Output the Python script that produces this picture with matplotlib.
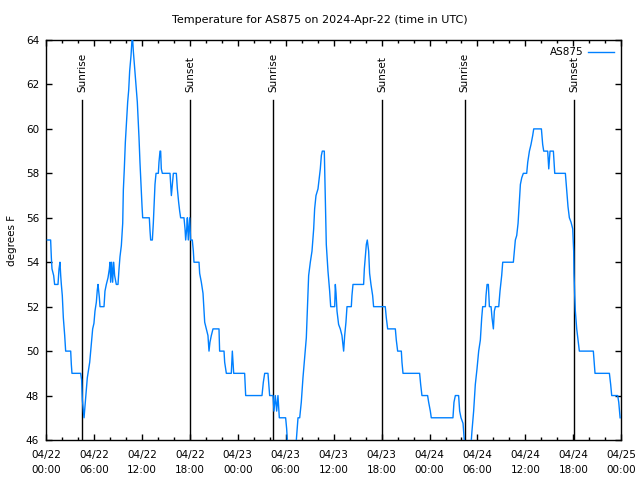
import matplotlib
matplotlib.use("Agg")
import matplotlib.pyplot as plt
from matplotlib.ticker import MultipleLocator, FixedLocator

# hours since 2024-04-22 00:00 UTC, temperature in F (polyline vertices)
hours = [0.17, 0.58, 0.67, 0.75, 0.96, 1.08, 1.50, 1.63, 1.75, 1.84, 1.92, 2.04, 2.17, 2.34, 2.46,
         3.09, 3.17, 3.25, 4.34, 4.46, 4.55, 4.76, 4.92, 5.17, 5.47, 5.72, 5.84, 6.00, 6.13, 6.30,
         6.42, 6.51, 6.68, 6.76, 7.26, 7.38, 7.55, 7.76, 7.93, 8.01, 8.09, 8.22, 8.34, 8.47, 8.59,
         8.80, 9.01, 9.14, 9.26, 9.43, 9.60, 9.68, 9.80, 9.93, 10.10, 10.22, 10.35, 10.47, 10.64,
         10.76, 10.85, 10.93, 11.10, 11.26, 11.43, 11.64, 11.76, 11.89, 12.02, 12.10, 12.93, 13.02,
         13.10, 13.31, 13.43, 13.52, 13.64, 13.77, 14.06, 14.14, 14.27, 14.35, 14.43, 14.56, 15.52,
         15.60, 15.69, 15.81, 15.94, 16.31, 16.44, 16.60, 16.73, 16.85, 17.27, 17.40, 17.48, 17.61,
         17.69, 17.81, 17.98, 18.10, 18.31, 18.44, 18.52, 19.15, 19.23, 19.44, 19.65, 19.77, 19.86,
         20.06, 20.27, 20.40, 20.52, 20.69, 20.90, 21.65, 21.73, 22.28, 22.36, 22.57, 23.19, 23.32,
         23.49, 24.86, 24.99, 27.03, 27.20, 27.37, 27.78, 27.99, 28.41, 28.53, 28.70, 28.87, 29.03,
         29.20, 29.99, 30.12, 30.20, 30.40, 31.10, 31.33, 31.54, 31.75, 31.95, 32.16, 32.37, 32.58,
         32.70, 32.87, 33.08, 33.29, 33.50, 33.62, 33.79, 34.04, 34.33, 34.46, 34.58, 34.83, 34.96,
         35.08, 35.29, 35.50, 35.63, 36.13, 36.21, 36.30, 36.42, 36.62, 36.83, 37.04, 37.25, 37.38,
         37.54, 37.67, 38.21, 38.29, 38.42, 39.75, 39.84, 39.96, 40.09, 40.21, 40.38, 40.50, 40.67,
         40.88, 41.00, 42.46, 42.59, 42.76, 43.72, 43.84, 44.01, 44.47, 44.55, 44.68, 46.76, 46.89,
         47.05, 47.76, 47.89, 48.10, 48.22, 50.93, 51.06, 51.23, 51.64, 51.77, 51.94, 52.19, 52.35,
         52.55, 53.00, 53.23, 53.31, 53.52, 53.73, 53.94, 54.15, 54.36, 54.53, 54.65, 54.99, 55.07,
         55.20, 55.36, 55.49, 55.70, 55.82, 55.99, 56.11, 56.24, 56.66, 56.82, 57.03, 57.16, 58.49,
         58.62, 58.74, 58.91, 59.08, 59.24, 59.37, 59.54, 59.74, 60.16, 60.29, 60.50, 60.70, 60.91,
         61.04, 62.00, 62.16, 62.29, 62.79, 62.92, 63.08, 63.25, 63.50, 63.67, 65.00, 65.17, 65.33,
         65.50, 65.71, 65.92, 66.04, 66.08, 66.17, 66.25, 66.42, 66.59, 66.75, 68.50, 68.71, 70.51,
         70.67, 70.80, 71.55, 71.68, 71.85]
temps = [55, 55, 54.2, 53.7, 53.4, 53, 53, 53.7, 54, 53.4, 53, 52.5, 51.5, 50.7, 50,
         50, 49.4, 49, 49, 48.7, 47.8, 47, 47.7, 48.8, 49.5, 50.5, 51, 51.25, 51.8, 52.2,
         52.75, 53, 52.4, 52, 52, 52.7, 53, 53.3, 53.7, 54, 53.1, 54, 53.1, 54, 53.4,
         53, 53, 53.7, 54.25, 54.75, 55.75, 57.25, 58.2, 59.4, 60.5, 61.2, 61.75, 62.6, 63.3,
         64, 64, 63.5, 62.7, 62, 61.2, 59.6, 58.5, 57.5, 56.5, 56, 56, 55.4,
         55, 55, 55.75, 56.5, 57.5, 58, 58, 58.5, 59, 59, 58.2, 58, 58,
         57.5, 57, 57.5, 58, 58, 57.3, 56.7, 56.3, 56, 56, 55.5, 55, 55.5,
         56, 55, 56, 55, 55, 54.5, 54, 54, 53.5, 53.1, 52.6, 51.9, 51.3,
         51, 50.7, 50, 50.4, 50.7, 51, 51, 50, 50, 49.5, 49, 49, 50,
         49, 49, 48, 48, 48.6, 49, 49, 48, 48, 47.3, 48, 47.3, 48,
         47, 47, 46.5, 46, 45.5, 45.5, 46, 47, 47, 47.7, 48.8, 49.7, 50.6,
         51.8, 53.4, 54, 54.5, 55.5, 56.4, 57, 57.3, 58.2, 58.8, 59, 59, 56.7,
         54.8, 53.6, 52.7, 52, 52, 53, 52.6, 51.8, 51.2, 51, 50.7, 50, 50.7,
         51.3, 52, 52, 52.5, 53, 53, 53.7, 54.25, 54.8, 55, 54.5, 53.5, 53,
         52.5, 52, 52, 51.5, 51, 51, 50.5, 50, 50, 49.5, 49, 49, 48.5,
         48, 48, 47.7, 47.3, 47, 47, 47.7, 48, 48, 47.3, 47, 46.75, 46,
         45.5, 45.5, 46, 46.4, 47.3, 48.5, 49.2, 50, 50.5, 51.5, 52, 52, 52.5,
         53, 53, 52, 52, 51.5, 51, 51.8, 52, 52, 52.7, 53.4, 54, 54,
         54.5, 55, 55.2, 55.75, 56.7, 57.5, 57.8, 58, 58, 58.5, 59, 59.3, 59.7,
         60, 60, 59.3, 59, 59, 58.2, 59, 59, 59, 58, 58, 57.2, 56.5,
         56, 55.8, 55.5, 54.5, 53.5, 52.5, 51.8, 51, 50.5, 50, 50, 49, 49,
         48.5, 48, 48, 47.7, 47]

sun_labels = ["Sunrise", "Sunset", "Sunrise", "Sunset", "Sunrise", "Sunset"]
sun_hours = [4.52, 18.06, 28.47, 42.08, 52.40, 66.10]

xtick_hours = [0, 6, 12, 18, 24, 30, 36, 42, 48, 54, 60, 66, 72]
xtick_labels = ["04/22\n00:00", "04/22\n06:00", "04/22\n12:00", "04/22\n18:00",
                "04/23\n00:00", "04/23\n06:00", "04/23\n12:00", "04/23\n18:00",
                "04/24\n00:00", "04/24\n06:00", "04/24\n12:00", "04/24\n18:00",
                "04/25\n00:00"]
yticks = [46, 48, 50, 52, 54, 56, 58, 60, 62, 64]

plt.rcParams['font.family'] = ['DejaVu Sans']
fig = plt.figure(figsize=(6.4, 4.8), dpi=100)
ax = fig.add_axes([46/640, 40/480, (621.3-46)/640, 400/480])

ax.plot(hours, temps, color='#0080ff', lw=1.0, label='AS875', zorder=3)

for h, lab in zip(sun_hours, sun_labels):
    ax.plot([h, h], [46, 61.3], color='black', lw=1.0, zorder=2)
    ax.text(h, 61.65, lab, rotation=90, ha='center', va='bottom', fontsize=7.5)

ax.set_xlim(0, 72)
ax.set_ylim(46, 64)
ax.xaxis.set_major_locator(FixedLocator(xtick_hours))
ax.set_xticklabels(xtick_labels, fontsize=7.5, linespacing=1.7)
ax.xaxis.set_minor_locator(MultipleLocator(2))
ax.set_yticks(yticks)
ax.set_yticklabels([str(v) for v in yticks], fontsize=7.5)
ax.tick_params(which='both', direction='in', top=True, right=True, width=1.0)
ax.tick_params(which='major', length=4.5, pad=5)
ax.tick_params(axis='x', which='major', pad=7)
ax.tick_params(which='minor', length=2.5)
for s in ax.spines.values():
    s.set_linewidth(1.0)

ax.set_ylabel('degrees F', fontsize=7.5, va='center')
ax.yaxis.set_label_coords((12 - 46) / 575.3, 0.5)
fig.text(0.5, 1 - 20/480, 'Temperature for AS875 on 2024-Apr-22 (time in UTC)',
         ha='center', va='center', fontsize=8)

ax.legend(loc='upper right', frameon=False, markerfirst=False, fontsize=7.5,
          handlelength=2.5, borderaxespad=0.3, handletextpad=0.4)

fig.savefig('out.png', dpi=100)
